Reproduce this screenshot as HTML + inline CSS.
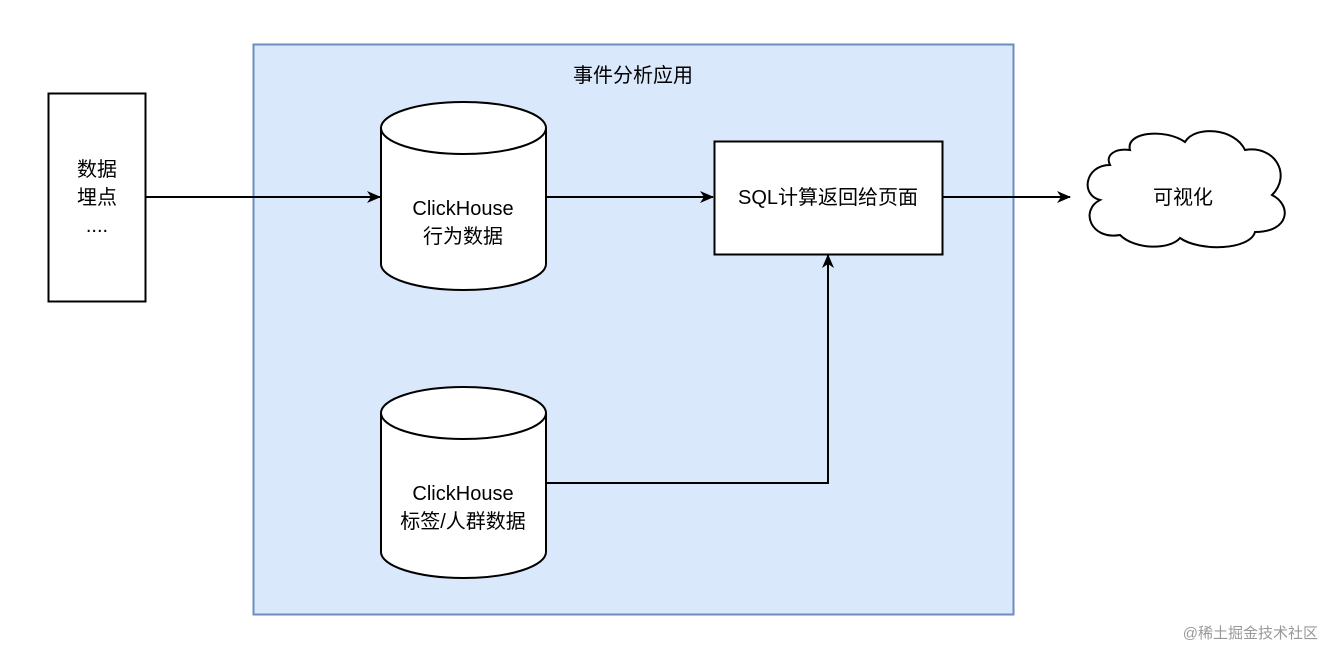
<!DOCTYPE html>
<html><head><meta charset="utf-8"><style>
body{margin:0;background:#fff;}
svg text{font-family:"Liberation Sans","Noto Sans CJK SC",sans-serif;font-size:20px;fill:#000;}
</style></head><body>
<svg width="1332" height="662" viewBox="0 0 1332 662" xmlns="http://www.w3.org/2000/svg">
<defs><marker id="a" markerWidth="14" markerHeight="12" refX="13" refY="6" orient="auto" markerUnits="userSpaceOnUse"><path d="M0,0 L14,6 L0,12 L4,6 Z" fill="#000"/></marker></defs>
<rect x="253.5" y="44.5" width="760" height="570" fill="#dae8fc" stroke="#6c8ebf" stroke-width="2"/>
<text x="633" y="82" text-anchor="middle">事件分析应用</text>
<rect x="48.5" y="93.5" width="97" height="208" fill="#fff" stroke="#000" stroke-width="2"/>
<text x="97" y="176" text-anchor="middle">数据</text>
<text x="97" y="204" text-anchor="middle">埋点</text>
<text x="97" y="232" text-anchor="middle">....</text>
<path d="M381,128 A82.5,26 0 0 1 546,128 L546,264 A82.5,26 0 0 1 381,264 Z" fill="#fff" stroke="#000" stroke-width="2"/>
<path d="M381,128 A82.5,26 0 0 0 546,128" fill="none" stroke="#000" stroke-width="2"/>
<text x="463" y="215" text-anchor="middle">ClickHouse</text>
<text x="463" y="243" text-anchor="middle">行为数据</text>
<path d="M381,413 A82.5,26 0 0 1 546,413 L546,552 A82.5,26 0 0 1 381,552 Z" fill="#fff" stroke="#000" stroke-width="2"/>
<path d="M381,413 A82.5,26 0 0 0 546,413" fill="none" stroke="#000" stroke-width="2"/>
<text x="463" y="500" text-anchor="middle">ClickHouse</text>
<text x="463" y="528" text-anchor="middle">标签/人群数据</text>
<rect x="714.5" y="141.5" width="228" height="113" fill="#fff" stroke="#000" stroke-width="2"/>
<text x="828" y="204" text-anchor="middle">SQL计算返回给页面</text>
<path d="M1110,165 C1085,165 1080,195 1100,200 C1080,210 1090,240 1120,235 C1135,250 1170,250 1180,238 C1200,252 1250,250 1255,232 C1290,232 1292,205 1272,195 C1292,175 1275,145 1245,150 C1235,128 1195,125 1185,142 C1165,128 1125,132 1130,150 C1115,148 1105,155 1110,165 Z" fill="#fff" stroke="#000" stroke-width="2"/>
<text x="1183" y="204" text-anchor="middle">可视化</text>
<g stroke="#000" stroke-width="2" fill="none">
<line x1="145" y1="197" x2="380" y2="197" marker-end="url(#a)"/>
<line x1="546" y1="197" x2="713" y2="197" marker-end="url(#a)"/>
<line x1="942" y1="197" x2="1070" y2="197" marker-end="url(#a)"/>
<polyline points="546,483 828,483 828,255" marker-end="url(#a)"/>
</g>
<text x="1318" y="638" text-anchor="end" style="font-size:15px;fill:#999">@稀土掘金技术社区</text>
</svg>
</body></html>
